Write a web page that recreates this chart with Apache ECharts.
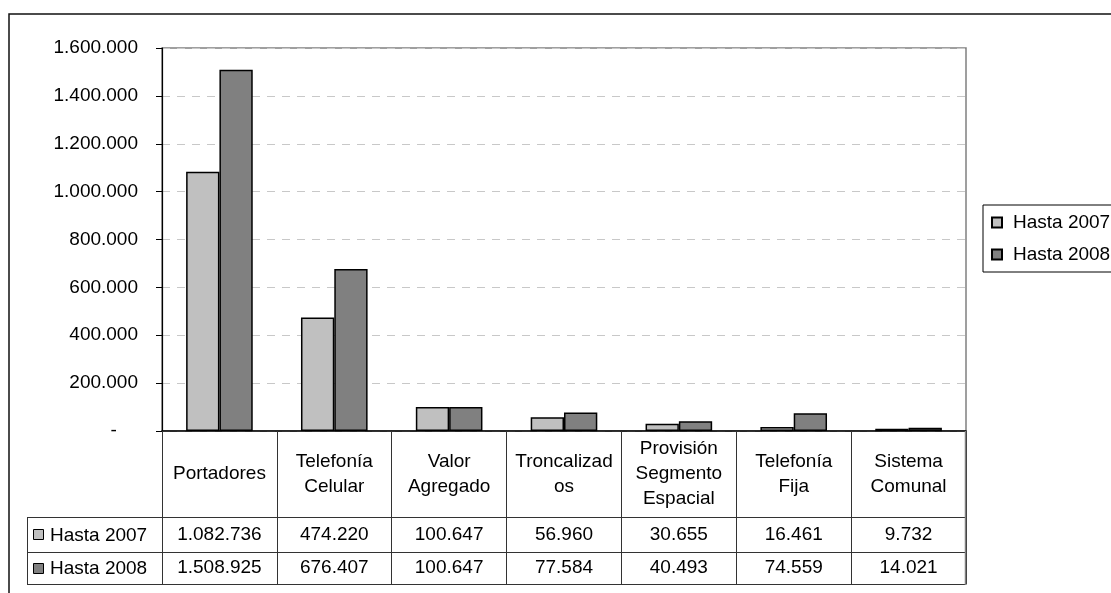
<!DOCTYPE html>
<html>
<head>
<meta charset="utf-8">
<script src="https://cdn.jsdelivr.net/npm/echarts@6/dist/echarts.min.js"></script>
<style>
html,body{margin:0;padding:0;background:#fff;}
#c{width:1111px;height:593px;}
</style>
</head>
<body>
<div id="c"></div>
<script>
// ---- data ----
var categories = ['Portadores', 'Telefonía\nCelular', 'Valor\nAgregado', 'Troncalizad\nos', 'Provisión\nSegmento\nEspacial', 'Telefonía\nFija', 'Sistema\nComunal'];
var seriesNames = ['Hasta 2007', 'Hasta 2008'];
var hasta2007 = [1082736, 474220, 100647, 56960, 30655, 16461, 9732];
var hasta2008 = [1508925, 676407, 100647, 77584, 40493, 74559, 14021];
var yTicks = [0, 200000, 400000, 600000, 800000, 1000000, 1200000, 1400000, 1600000];

// ---- layout ----
var W = 1111, H = 593;
var GL = 162, GT = 48, GR = 966, GB = 431;
var ROW0 = 86, ROW1 = 35, ROW2 = 32;
var TABLE_LEFT = 27;
var FONT = 'Liberation Sans, Arial, sans-serif';
var FS = 19;
var colors = ['#c0c0c0', '#808080'];
var LINE = '#333';

function fmt(n) { return String(n).replace(/\B(?=(\d{3})+(?!\d))/g, '.'); }

var chart = echarts.init(document.getElementById('c'), null, {renderer: 'canvas'});

var y1 = GB + ROW0, y2 = y1 + ROW1, y3 = y2 + ROW2;

function catAxis(offset, tickLen, labelOpt, showLine) {
  return {
    type: 'category', data: categories, position: 'bottom', offset: offset,
    axisLine: {show: showLine !== false, onZero: false, lineStyle: {color: offset === 0 ? '#000' : LINE, width: offset === 0 ? 1.6 : 1}},
    axisTick: {show: tickLen > 0, alignWithLabel: false, length: tickLen, interval: 0, lineStyle: {color: LINE, width: 1}},
    axisLabel: labelOpt,
    splitLine: {show: false}
  };
}

var lbl = {interval: 0, verticalAlign: 'middle', align: 'center', fontFamily: FONT, fontSize: FS, color: '#000'};

var option = {
  animation: false,
  backgroundColor: '#fff',
  grid: {left: GL, top: GT, right: W - GR, bottom: H - GB, show: true, borderColor: '#808080', borderWidth: 1.5, containLabel: false},
  legend: {
    orient: 'vertical', left: 983, top: 205,
    data: seriesNames,
    borderColor: '#000', borderWidth: 1, padding: [8, 40, 8, 8],
    itemWidth: 10, itemHeight: 10, itemGap: 13, icon: 'rect',
    textStyle: {fontFamily: FONT, fontSize: FS, color: '#000', padding: [0, 0, 0, 6]}
  },
  xAxis: [
    catAxis(0, ROW0, Object.assign({}, lbl, {margin: ROW0 / 2, lineHeight: 25})),
    catAxis(ROW0, ROW1, Object.assign({}, lbl, {margin: ROW1 / 2, formatter: function (v, i) { return fmt(hasta2007[i]); }})),
    catAxis(ROW0 + ROW1, ROW2, Object.assign({}, lbl, {margin: ROW2 / 2, formatter: function (v, i) { return fmt(hasta2008[i]); }})),
    catAxis(ROW0 + ROW1 + ROW2, 0, {show: false})
  ],
  yAxis: {
    type: 'value', min: 0, max: 1600000, interval: 200000,
    axisLine: {show: true, lineStyle: {color: '#000', width: 1.2}},
    axisTick: {show: true, length: 6, lineStyle: {color: '#000'}},
    axisLabel: {margin: 24, fontFamily: FONT, fontSize: FS, color: '#000',
      formatter: function (v) { return v === 0 ? '-    ' : fmt(v); }},
    splitLine: {show: true, lineStyle: {color: '#c8c8c8', width: 1, type: [8, 7]}}
  },
  series: [
    {name: seriesNames[0], type: 'bar', data: hasta2007, barGap: '0%', barCategoryGap: '42%',
      itemStyle: {color: colors[0], borderColor: '#000', borderWidth: 1.5}},
    {name: seriesNames[1], type: 'bar', data: hasta2008, barGap: '0%', barCategoryGap: '42%',
      itemStyle: {color: colors[1], borderColor: '#000', borderWidth: 1.5}}
  ],
  graphic: [
    // outer chart border
    {type: 'rect', shape: {x: 9, y: 14, width: 1300, height: 800}, style: {fill: 'none', stroke: '#111', lineWidth: 1.5}, z: 100},
    // row header column lines
    {type: 'line', shape: {x1: TABLE_LEFT, y1: y1 + 0.5, x2: GL, y2: y1 + 0.5}, style: {stroke: LINE, lineWidth: 1}, z: 100},
    {type: 'line', shape: {x1: TABLE_LEFT, y1: y2 + 0.5, x2: GL, y2: y2 + 0.5}, style: {stroke: LINE, lineWidth: 1}, z: 100},
    {type: 'line', shape: {x1: TABLE_LEFT, y1: y3 + 0.5, x2: GL, y2: y3 + 0.5}, style: {stroke: LINE, lineWidth: 1}, z: 100},
    {type: 'line', shape: {x1: TABLE_LEFT + 0.5, y1: y1, x2: TABLE_LEFT + 0.5, y2: y3}, style: {stroke: LINE, lineWidth: 1}, z: 100},
    // right gray border along table
    {type: 'line', shape: {x1: GR - 0.5, y1: GB, x2: GR - 0.5, y2: y3 + 1}, style: {stroke: '#808080', lineWidth: 1.5}, z: 100},
    // row headers
    {type: 'rect', shape: {x: 33.5, y: y1 + 12.5, width: 10, height: 10}, style: {fill: colors[0], stroke: '#000', lineWidth: 1}, z: 100},
    {type: 'text', x: 50, y: (y1 + y2) / 2 + 1, style: {text: seriesNames[0], font: FS + 'px ' + FONT, fill: '#000', verticalAlign: 'middle'}, z: 100},
    {type: 'rect', shape: {x: 33.5, y: y2 + 11.5, width: 10, height: 10}, style: {fill: colors[1], stroke: '#000', lineWidth: 1}, z: 100},
    {type: 'text', x: 50, y: (y2 + y3) / 2 + 1, style: {text: seriesNames[1], font: FS + 'px ' + FONT, fill: '#000', verticalAlign: 'middle'}, z: 100}
  ]
};
chart.setOption(option);
</script>
</body>
</html>
